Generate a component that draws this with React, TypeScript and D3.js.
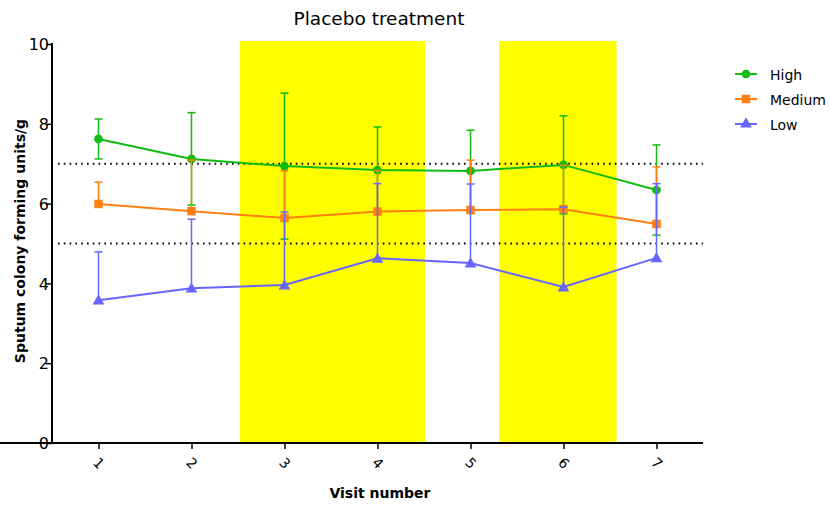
import * as d3 from "d3";
import { useEffect, useRef } from "react";

const visits = [1, 2, 3, 4, 5, 6, 7];
const highMean = [7.62, 7.12, 6.94, 6.84, 6.82, 6.97, 6.34];
const highSd = [0.5, 1.16, 1.83, 1.08, 1.02, 1.23, 1.13];
const mediumMean = [5.99, 5.81, 5.64, 5.8, 5.84, 5.86, 5.49];
const mediumSd = [0.55, 1.28, 1.18, 1.03, 1.25, 1.1, 1.43];
const lowMean = [3.58, 3.88, 3.96, 4.63, 4.51, 3.91, 4.64];
const lowSd = [1.21, 1.73, 1.83, 1.87, 1.98, 2.0, 1.86];
const shadedRanges = [
  [2.52, 4.51],
  [5.31, 6.57],
];
const refLines = [7, 5];
const yTicks = [0, 2, 4, 6, 8, 10];

const series = [
  { name: "High", mean: highMean, sd: highSd, color: "#11BB11", shape: "circle", both: true },
  { name: "Medium", mean: mediumMean, sd: mediumSd, color: "#FF8011", shape: "square", both: false },
  { name: "Low", mean: lowMean, sd: lowSd, color: "#6666FF", shape: "triangle", both: false },
];

const W = 829;
const H = 505;
const FONT = "'DejaVu Sans', Verdana, sans-serif";

const App = () => {
  const svgRef = useRef(null);

  useEffect(() => {
    const svg = d3.select(svgRef.current);
    svg.selectAll("*").remove();

    const x = d3.scaleLinear().domain([0.5, 7.5]).range([52, 703]);
    const y = d3.scaleLinear().domain([0, 10]).range([443, 44]);

    // Shaded visit bands
    svg
      .append("g")
      .selectAll("rect")
      .data(shadedRanges)
      .enter()
      .append("rect")
      .attr("x", (d) => x(d[0]))
      .attr("width", (d) => x(d[1]) - x(d[0]))
      .attr("y", 41)
      .attr("height", y(0) - 41)
      .attr("fill", "#FFFF00");

    // Dotted reference lines
    svg
      .append("g")
      .selectAll("line")
      .data(refLines)
      .enter()
      .append("line")
      .attr("x1", 58)
      .attr("x2", 703)
      .attr("y1", (d) => y(d))
      .attr("y2", (d) => y(d))
      .attr("stroke", "#000")
      .attr("stroke-width", 2)
      .attr("stroke-dasharray", "1.6,4.2");

    // Axes
    const yAxis = d3.axisLeft(y).tickValues(yTicks).tickSize(6).tickSizeOuter(0);
    const yg = svg.append("g").attr("transform", `translate(52,0)`).call(yAxis);
    yg.select(".domain").attr("stroke-width", 2).attr("d", `M0,${y(0) + 1}V${y(10) - 1}`);
    yg.selectAll(".tick line").attr("stroke-width", 1.5);
    yg.selectAll(".tick text")
      .attr("font-family", FONT)
      .attr("font-size", 16)
      .attr("fill", "#000")
      .attr("x", -3)
      .attr("dy", "0.36em");

    const xAxis = d3
      .axisBottom(x)
      .tickValues(visits)
      .tickFormat(d3.format("d"))
      .tickSize(6)
      .tickSizeOuter(0);
    const xg = svg.append("g").attr("transform", `translate(0,${y(0)})`).call(xAxis);
    xg.select(".domain").attr("stroke-width", 2).attr("d", `M-1,0H703`);
    xg.selectAll(".tick line").attr("stroke-width", 1.5);
    xg.selectAll(".tick text")
      .attr("font-family", FONT)
      .attr("font-size", 14)
      .attr("fill", "#000")
      .attr("y", 0)
      .attr("dy", 0)
      .attr("text-anchor", "middle")
      .attr("transform", "translate(0,20) rotate(45)")
      .attr("dominant-baseline", "central");

    // Series
    const symbolFor = (shape) =>
      shape === "circle"
        ? d3.symbol().type(d3.symbolCircle).size(60)
        : shape === "square"
        ? d3.symbol().type(d3.symbolSquare).size(72)
        : d3.symbol().type(d3.symbolTriangle).size(60);

    series.forEach((s) => {
      const g = svg.append("g");
      const pts = visits.map((v, i) => ({ v, m: s.mean[i], sd: s.sd[i] }));

      // Error bars
      pts.forEach((p) => {
        const top = y(p.m + p.sd);
        const bot = s.both ? y(p.m - p.sd) : y(p.m);
        g.append("line")
          .attr("x1", x(p.v))
          .attr("x2", x(p.v))
          .attr("y1", top)
          .attr("y2", bot)
          .attr("stroke", s.color)
          .attr("stroke-width", 1.5);
        g.append("line")
          .attr("x1", x(p.v) - 4)
          .attr("x2", x(p.v) + 4)
          .attr("y1", top)
          .attr("y2", top)
          .attr("stroke", s.color)
          .attr("stroke-width", 1.5);
        if (s.both) {
          g.append("line")
            .attr("x1", x(p.v) - 4)
            .attr("x2", x(p.v) + 4)
            .attr("y1", bot)
            .attr("y2", bot)
            .attr("stroke", s.color)
            .attr("stroke-width", 1.5);
        }
      });

      const line = d3
        .line()
        .x((d) => x(d.v))
        .y((d) => y(d.m));
      g.append("path")
        .datum(pts)
        .attr("d", line)
        .attr("fill", "none")
        .attr("stroke", s.color)
        .attr("stroke-width", 2);

      g.selectAll("path.mark")
        .data(pts)
        .enter()
        .append("path")
        .attr("class", "mark")
        .attr("d", symbolFor(s.shape))
        .attr("transform", (d) => `translate(${x(d.v)},${y(d.m) + (s.shape === "triangle" ? 1 : 0)})`)
        .attr("fill", s.color);
    });

    // Legend
    const lg = svg.append("g");
    series.forEach((s, i) => {
      const ly = 74 + i * 25;
      lg.append("line")
        .attr("x1", 735)
        .attr("x2", 757)
        .attr("y1", ly)
        .attr("y2", ly)
        .attr("stroke", s.color)
        .attr("stroke-width", 2);
      lg.append("path")
        .attr("d", symbolFor(s.shape))
        .attr("transform", `translate(746,${ly})`)
        .attr("fill", s.color);
      lg.append("text")
        .attr("x", 770)
        .attr("y", ly + 1)
        .attr("dy", "0.35em")
        .attr("font-family", FONT)
        .attr("font-size", 14)
        .attr("fill", "#000")
        .text(s.name);
    });

    // Titles
    svg
      .append("text")
      .attr("x", 379)
      .attr("y", 25)
      .attr("text-anchor", "middle")
      .attr("font-family", FONT)
      .attr("font-size", 18.5)
      .attr("fill", "#000")
      .text("Placebo treatment");

    svg
      .append("text")
      .attr("x", 380)
      .attr("y", 498)
      .attr("text-anchor", "middle")
      .attr("font-family", FONT)
      .attr("font-size", 14)
      .attr("font-weight", "bold")
      .attr("fill", "#000")
      .text("Visit number");

    svg
      .append("text")
      .attr("transform", "rotate(-90)")
      .attr("x", -241)
      .attr("y", 25)
      .attr("text-anchor", "middle")
      .attr("font-family", FONT)
      .attr("font-size", 14)
      .attr("font-weight", "bold")
      .attr("fill", "#000")
      .text("Sputum colony forming units/g");
  }, []);

  return (
    <svg
      ref={svgRef}
      width={W}
      height={H}
      style={{ position: "absolute", left: 0, top: 0, background: "#fff" }}
    />
  );
};

export default App;
